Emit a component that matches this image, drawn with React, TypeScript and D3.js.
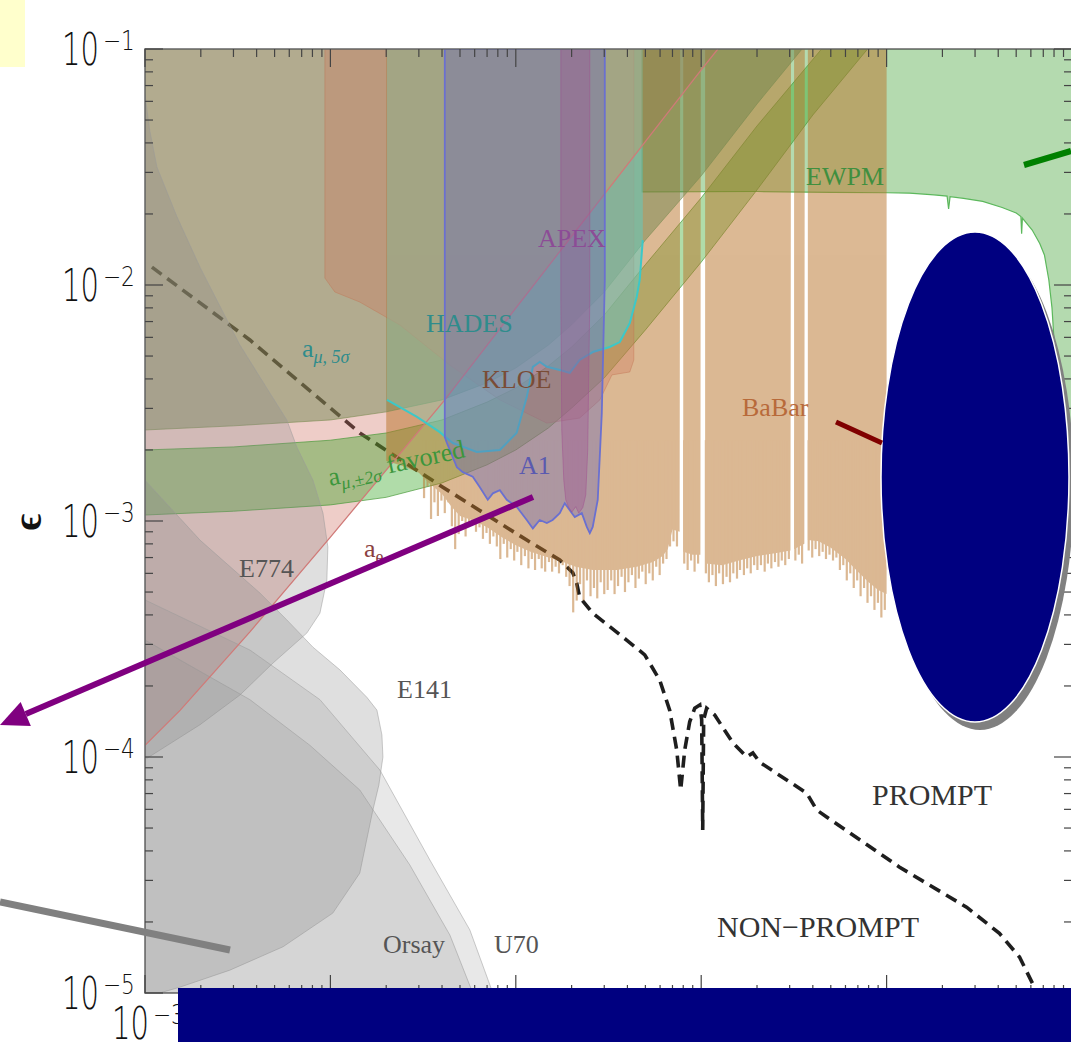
import React from "react";
import * as d3 from "d3";

type P = [number, number]; // [mass (GeV), epsilon]

// ---- exclusion regions and curves, in (mass GeV, epsilon) ----
const ewpmEdge: P[] = [
  [0.48, 0.0248], [2, 0.0249], [5, 0.0247], [10, 0.0246], [13.3, 0.0245], [18, 0.0241],
  [21.2, 0.0238], [21.6, 0.021], [22, 0.0237], [26, 0.0233], [33, 0.0226], [42, 0.0213],
  [50, 0.0202], [53, 0.0195], [53.5, 0.0165], [54, 0.0192], [61, 0.0171], [67, 0.015],
  [71, 0.0134], [75, 0.0105], [78, 0.008], [81, 0.005], [84, 0.003], [88, 0.0018],
  [93, 0.0011], [100, 8.3e-4],
];

const aeLine: P[] = [
  [1e-3, 1.12e-4], [1.55e-3, 1.58e-4], [3.68e-3, 3.39e-4], [0.01, 8.55e-4], [0.0414, 3.26e-3],
  [0.105, 8.39e-3], [0.508, 0.0412], [1.0, 0.0815], [1.23, 0.1],
];

const amu5Edge: P[] = [
  [1e-3, 2.43e-3], [3e-3, 2.53e-3], [0.01, 2.68e-3], [0.02, 2.9e-3], [0.04, 3.26e-3],
  [0.07, 3.85e-3], [0.1, 4.45e-3], [0.15, 5.57e-3], [0.2, 6.78e-3], [0.3, 9.34e-3],
  [0.5, 0.0155], [1.0, 0.029], [2.0, 0.0585], [3.5, 0.1],
];

const amu2Upper: P[] = [
  [1e-3, 2.0e-3], [3e-3, 2.06e-3], [0.01, 2.2e-3], [0.02, 2.36e-3], [0.04, 2.68e-3],
  [0.07, 3.19e-3], [0.1, 3.66e-3], [0.15, 4.54e-3], [0.2, 5.46e-3], [0.3, 7.46e-3],
  [0.5, 0.0122], [1.0, 0.0234], [2.0, 0.0472], [4.46, 0.1],
];

const amu2Lower: P[] = [
  [1e-3, 1.06e-3], [3e-3, 1.1e-3], [0.01, 1.17e-3], [0.02, 1.26e-3], [0.04, 1.45e-3],
  [0.07, 1.73e-3], [0.1, 2.0e-3], [0.15, 2.48e-3], [0.2, 3.01e-3], [0.3, 4.04e-3],
  [0.5, 6.45e-3], [1.0, 0.0125], [2.0, 0.0253], [4.0, 0.0525], [7.9, 0.1],
];

const e774Edge: P[] = [
  [1e-3, 0.0638], [1.06e-3, 0.0454], [1.16e-3, 0.0316], [1.49e-3, 0.0194], [1.98e-3, 0.0119],
  [2.44e-3, 8.63e-3], [3.25e-3, 5.57e-3], [4.43e-3, 3.77e-3], [5.82e-3, 2.68e-3],
  [6.59e-3, 2.06e-3], [8.05e-3, 1.49e-3], [9.12e-3, 1.08e-3], [9.69e-3, 7.76e-4],
  [9.57e-3, 5.62e-4], [8.78e-3, 4.07e-4], [7.46e-3, 3.35e-4], [4.9e-3, 2.5e-4],
  [3.25e-3, 1.83e-4], [1.98e-3, 1.37e-4], [1.03e-3, 9.9e-5], [1e-3, 9.9e-5],
];

const e141Edge: P[] = [
  [1e-3, 1.49e-3], [1.98e-3, 8.3e-4], [4.17e-3, 4.95e-4], [5.82e-3, 3.81e-4], [8.05e-3, 2.92e-4],
  [0.01125, 2.34e-4], [0.01573, 1.79e-4], [0.01782, 1.58e-4], [0.01896, 1.24e-4],
  [0.0192, 1.0e-4], [0.01825, 7.6e-5], [0.01695, 5.96e-5], [0.0144, 3.22e-5],
  [0.0103, 2.18e-5], [5.55e-3, 1.57e-5], [2.87e-3, 1.25e-5], [1.55e-3, 1.06e-5],
  [1.2e-3, 1e-5], [1e-3, 1e-5],
];

const orsayEdge: P[] = [
  [1e-3, 3.13e-4], [3.68e-3, 1.75e-4], [7.76e-3, 1.12e-4], [0.0144, 7.25e-5],
  [0.0268, 3.49e-5], [0.0441, 1.76e-5], [0.0586, 1e-5], [1e-3, 1e-5],
];

const u70Edge: P[] = [
  [1e-3, 4.63e-4], [3.68e-3, 2.84e-4], [8.78e-3, 1.75e-4], [0.0185, 8.8e-5],
  [0.0344, 3.66e-5], [0.0565, 1.85e-5], [0.0752, 1e-5], [1e-3, 1e-5],
];

const kloeEdge: P[] = [
  [9.34e-3, 0.1], [9.34e-3, 0.0107], [0.01057, 9.34e-3], [0.0144, 8.47e-3], [0.0237, 6.77e-3],
  [0.0441, 4.58e-3], [0.082, 3.26e-3], [0.147, 2.6e-3], [0.221, 2.73e-3], [0.284, 3.26e-3],
  [0.33, 4.16e-3], [0.412, 4.28e-3], [0.433, 4.81e-3], [0.433, 0.1],
];

// BaBar: lower envelope of the excluded band (with resonance vetoes) ...
const babarBody: P[] = [
  [0.02, 1.8e-3], [0.025, 1.7e-3], [0.03, 1.6e-3], [0.034, 1.45e-3], [0.04, 1.3e-3],
  [0.045, 1.15e-3], [0.05, 1.05e-3], [0.06, 1.0e-3], [0.07, 9.4e-4], [0.085, 8.5e-4],
  [0.1, 7.9e-4], [0.12, 7.4e-4], [0.15, 7.0e-4], [0.18, 6.7e-4], [0.21, 6.4e-4],
  [0.26, 6.2e-4], [0.35, 6.2e-4], [0.45, 6.4e-4], [0.55, 6.7e-4], [0.62, 7.1e-4],
  [0.66, 7.6e-4], [0.7, 9.2e-4], [0.765, 9.0e-4],
  [0.77, 0.1], [0.8, 0.1],
  [0.8, 7.4e-4], [0.9, 7.2e-4], [0.99, 7.2e-4],
  [0.995, 0.1], [1.05, 0.1],
  [1.05, 6.6e-4], [1.3, 6.5e-4], [1.6, 6.8e-4], [2.0, 7.1e-4], [2.5, 7.3e-4], [3.03, 7.5e-4],
  [3.05, 0.1], [3.17, 0.1],
  [3.17, 7.6e-4], [3.6, 8.0e-4],
  [3.62, 0.1], [3.76, 0.1],
  [3.76, 8.3e-4], [4.3, 8.2e-4], [5.0, 7.7e-4], [6.0, 6.9e-4], [7.0, 6.1e-4], [8.0, 5.5e-4],
  [9.0, 5.1e-4], [10.0, 4.9e-4],
];

// ... and the downward fluctuations of the limit below it: [mass, deepest epsilon]
const babarNeedles: P[] = [
  [0.032, 1.25e-3], [0.0334, 1.4e-3], [0.0349, 1.02e-3], [0.0364, 1.2e-3], [0.038, 1.05e-3],
  [0.0397, 1.22e-3], [0.0414, 1.08e-3], [0.0433, 1.2e-3], [0.0452, 9.5e-4], [0.0471, 7.6e-4],
  [0.0492, 8.8e-4], [0.0514, 1.0e-3], [0.0536, 8.6e-4], [0.056, 9.6e-4], [0.0585, 9.8e-4],
  [0.061, 9.0e-4], [0.0637, 9.4e-4], [0.0665, 8.4e-4], [0.0695, 8.9e-4], [0.0725, 8.0e-4],
  [0.0757, 8.6e-4], [0.079, 7.8e-4], [0.0825, 6.9e-4], [0.0861, 8.0e-4], [0.0899, 7.0e-4],
  [0.0939, 7.6e-4], [0.098, 6.8e-4], [0.102, 7.4e-4], [0.107, 6.5e-4], [0.112, 7.1e-4],
  [0.117, 6.3e-4], [0.122, 6.9e-4], [0.127, 6.2e-4], [0.133, 6.9e-4], [0.138, 6.3e-4],
  [0.144, 6.1e-4], [0.151, 6.7e-4], [0.157, 6.1e-4], [0.164, 6.4e-4], [0.171, 6.0e-4],
  [0.179, 6.5e-4], [0.187, 5.8e-4], [0.195, 5.3e-4], [0.204, 4.1e-4], [0.213, 4.6e-4],
  [0.222, 5.4e-4], [0.232, 4.6e-4], [0.242, 5.6e-4], [0.253, 4.8e-4], [0.264, 5.2e-4],
  [0.275, 4.7e-4], [0.287, 5.5e-4], [0.3, 4.9e-4], [0.313, 5.1e-4], [0.327, 5.6e-4],
  [0.341, 4.9e-4], [0.356, 5.3e-4], [0.372, 5.8e-4], [0.388, 5.0e-4], [0.405, 5.5e-4],
  [0.423, 5.9e-4], [0.442, 5.2e-4], [0.461, 5.7e-4], [0.481, 6.1e-4], [0.502, 5.4e-4],
  [0.525, 6.0e-4], [0.548, 5.6e-4], [0.572, 6.4e-4], [0.597, 5.9e-4], [0.623, 6.6e-4],
  [0.65, 6.9e-4], [0.679, 7.8e-4], [0.709, 8.2e-4], [0.74, 7.8e-4],
  [0.81, 6.6e-4], [0.845, 6.2e-4], [0.882, 6.8e-4], [0.921, 6.1e-4], [0.962, 6.6e-4],
  [1.06, 6.0e-4], [1.1, 5.5e-4], [1.15, 5.9e-4], [1.2, 5.3e-4], [1.25, 6.0e-4], [1.31, 5.4e-4],
  [1.37, 5.8e-4], [1.43, 5.5e-4], [1.49, 6.0e-4], [1.56, 5.7e-4], [1.62, 6.2e-4], [1.7, 5.9e-4],
  [1.77, 6.3e-4], [1.85, 6.0e-4], [1.93, 6.5e-4], [2.01, 6.2e-4], [2.1, 6.5e-4], [2.2, 6.1e-4],
  [2.29, 6.6e-4], [2.39, 6.3e-4], [2.5, 6.7e-4], [2.61, 6.4e-4], [2.72, 6.8e-4], [2.84, 6.5e-4],
  [2.97, 6.9e-4],
  [3.22, 6.8e-4], [3.36, 7.2e-4], [3.5, 6.6e-4],
  [3.8, 7.5e-4], [3.97, 7.0e-4], [4.14, 7.6e-4], [4.33, 7.1e-4], [4.52, 7.4e-4], [4.71, 6.9e-4],
  [4.92, 7.2e-4], [5.14, 6.8e-4], [5.36, 7.0e-4], [5.6, 6.2e-4], [5.84, 6.5e-4], [6.1, 5.6e-4],
  [6.37, 6.0e-4], [6.65, 5.2e-4], [6.94, 5.6e-4], [7.24, 4.8e-4], [7.56, 5.2e-4], [7.89, 4.5e-4],
  [8.24, 4.8e-4], [8.6, 4.2e-4], [8.98, 4.5e-4], [9.37, 3.9e-4], [9.78, 4.2e-4],
];

const hadesCurve: P[] = [
  [0.0202, 3.26e-3], [0.0293, 2.76e-3], [0.0389, 2.38e-3], [0.0457, 2.14e-3],
  [0.0616, 1.96e-3], [0.082, 2.0e-3], [0.101, 2.36e-3], [0.1146, 3.35e-3], [0.1236, 4.5e-3],
  [0.1346, 4.72e-3], [0.147, 4.5e-3], [0.1726, 4.36e-3], [0.1955, 4.24e-3], [0.221, 4.81e-3],
  [0.26, 5.2e-3], [0.321, 5.46e-3], [0.364, 5.73e-3], [0.412, 6.9e-3], [0.449, 8.9e-3],
  [0.466, 0.0105], [0.484, 0.0155],
];

const a1Edge: P[] = [
  [0.0414, 0.1], [0.0414, 2.27e-3], [0.0425, 2.14e-3], [0.0481, 1.69e-3], [0.0518, 1.61e-3],
  [0.0586, 1.54e-3], [0.064, 1.39e-3], [0.0706, 1.23e-3], [0.0752, 1.31e-3], [0.082, 1.35e-3],
  [0.0894, 1.23e-3], [0.101, 1.15e-3], [0.1146, 1.01e-3], [0.1236, 9.3e-4], [0.1346, 1.01e-3],
  [0.147, 9.8e-4], [0.158, 1.01e-3], [0.1726, 1.08e-3], [0.1837, 1.19e-3], [0.1955, 1.11e-3],
  [0.208, 1.04e-3], [0.227, 1.08e-3], [0.2415, 9.44e-4], [0.2507, 8.89e-4], [0.26, 9.44e-4],
  [0.2767, 1.23e-3], [0.291, 2.87e-3], [0.302, 0.0105], [0.302, 0.1],
];

const apexEdge: P[] = [
  [0.175, 0.1], [0.175, 8.63e-3], [0.177, 2.43e-3], [0.1815, 1.49e-3], [0.186, 1.23e-3],
  [0.193, 1.14e-3], [0.2005, 1.09e-3], [0.2105, 1.15e-3], [0.2186, 1.08e-3], [0.2298, 1.14e-3],
  [0.2384, 1.29e-3], [0.2443, 2.0e-3], [0.2472, 3.96e-3], [0.2507, 8.63e-3], [0.2507, 0.1],
];

// boundary between prompt and displaced decays
const promptLine: P[] = [
  [1.09e-3, 0.0119], [3.68e-3, 5.85e-3], [0.0144, 2.36e-3], [0.0404, 1.39e-3], [0.1146, 8.3e-4],
  [0.1726, 6.84e-4], [0.203, 6.03e-4], [0.213, 5.46e-4], [0.221, 4.76e-4], [0.26, 4.07e-4],
  [0.396, 3.13e-4], [0.496, 2.71e-4], [0.597, 2.12e-4], [0.676, 1.58e-4], [0.738, 1.07e-4],
  [0.775, 7.25e-5], [0.815, 1.07e-4], [0.867, 1.41e-4], [0.923, 1.61e-4], [0.982, 1.66e-4],
  [1.006, 1.44e-4], [1.019, 4.91e-5], [1.031, 1.44e-4], [1.07, 1.61e-4], [1.18, 1.51e-4],
  [1.48, 1.15e-4], [1.76, 1.0e-4], [1.9, 1.04e-4], [2.07, 9.5e-5], [3.71, 7.03e-5],
  [4.2, 5.96e-5], [4.75, 5.57e-5], [11.7, 3.42e-5], [27.0, 2.31e-5], [40.6, 1.79e-5],
  [52.1, 1.42e-5], [61.2, 1.1e-5], [66.8, 9.3e-6],
];

const yDecades = [-1, -2, -3, -4, -5];
const xDecades = [-3];

const SERIF = "'Liberation Serif', 'DejaVu Serif', serif";
const NUM = "'DejaVu Sans', sans-serif";

// "10" with a raised exponent, narrowed horizontally
function PowerLabel({ xr, yb, exp }: { xr: number; yb: number; exp: number }) {
  return (
    <g fill="#111" fontFamily={NUM} fontWeight={200}>
      <g transform={`translate(${xr},${yb}) scale(0.66,1)`}>
        <text x={0} y={0} fontSize={44} textAnchor="end">10</text>
      </g>
      <g transform={`translate(${xr + 4},${yb - 15}) scale(0.8,1)`}>
        <text x={0} y={0} fontSize={27}>{"\u2212" + Math.abs(exp)}</text>
      </g>
    </g>
  );
}

export default function App() {
  const x = d3.scaleLog().domain([1e-3, 1e2]).range([145, 1072]);
  const y = d3.scaleLog().domain([1e-5, 1e-1]).range([993, 49]);
  const line = d3.line<P>().x((d) => x(d[0])).y((d) => y(d[1]));
  const poly = (pts: P[]) => (line(pts) || "") + "Z";

  const ewpmPoly: P[] = [[0.48, 0.1], ...ewpmEdge, [100, 0.1]];
  const aePoly: P[] = [...aeLine, [1e-3, 0.1]];
  const belowAe: P[] = [...aeLine, [100, 0.1], [100, 1e-5], [1e-3, 1e-5]];
  const amu5Poly: P[] = [...amu5Edge, [1e-3, 0.1]];
  const amu2Poly: P[] = [...amu2Upper, ...[...amu2Lower].reverse()];
  const babarPoly: P[] = [[0.02, 0.1], ...babarBody, [10, 0.1]];
  const hadesPoly: P[] = [[0.0202, 0.1], ...hadesCurve, [0.484, 0.1]];

  const yTicks: { v: number; major: boolean }[] = [];
  for (let e = -5; e <= -1; e++) {
    for (let k = 1; k <= 9; k++) {
      const v = k * Math.pow(10, e);
      if (v > 0.1 + 1e-12) continue;
      yTicks.push({ v, major: k === 1 });
    }
  }
  const xTicks: { v: number; major: boolean }[] = [];
  for (let e = -3; e <= 2; e++) {
    for (let k = 1; k <= 9; k++) {
      const v = k * Math.pow(10, e);
      if (v > 100 + 1e-9) continue;
      xTicks.push({ v, major: k === 1 });
    }
  }

  const L = x(1e-3), R = x(1e2), T = y(1e-1), B = y(1e-5);

  // purple pointer with its arrow head
  const aStart: P = [533, 497];
  const aTip: P = [0, 725];
  const dx = aTip[0] - aStart[0], dy = aTip[1] - aStart[1];
  const len = Math.hypot(dx, dy);
  const ux = dx / len, uy = dy / len;
  const hl = 28, hw = 13;
  const bx = aTip[0] - ux * hl, by = aTip[1] - uy * hl;
  const head = `M${aTip[0]},${aTip[1]}L${bx - uy * hw},${by + ux * hw}L${bx + uy * hw},${by - ux * hw}Z`;

  const grayProps = { fill: "#8a8a8a", stroke: "#9a9a9a", strokeOpacity: 0.5 };
  const BABAR = "#b97329";

  return (
    <svg width={1071} height={1042} style={{ position: "absolute", left: 0, top: 0, display: "block" }}
      xmlns="http://www.w3.org/2000/svg">
      <rect x={0} y={0} width={1071} height={1042} fill="#ffffff" />
      <defs>
        <clipPath id="plot">
          <rect x={L} y={T} width={R - L} height={B - T} />
        </clipPath>
        <clipPath id="belowAe">
          <path d={poly(belowAe)} />
        </clipPath>
      </defs>

      <g clipPath="url(#plot)">
        {/* prompt / non-prompt boundary, beneath the filled regions */}
        <path d={line(promptLine) || ""} fill="none" stroke="#1e1e1e" strokeWidth={3.6} strokeDasharray="12 7" />

        <path d={poly(ewpmPoly)} fill="#58ad4d" fillOpacity={0.45} stroke="#5cb85c" strokeWidth={1.2} />
        <path d={poly(aePoly)} fill="#ce7062" fillOpacity={0.35} stroke="none" />
        <path d={poly(amu2Poly)} fill="#1e9b0a" fillOpacity={0.35} stroke="#4a9a3a" strokeOpacity={0.7} />

        {/* BaBar drawn opaque inside a translucent group so overlaps don't darken */}
        <g opacity={0.5}>
          <path d={poly(babarPoly)} fill={BABAR} stroke="none" />
          {babarNeedles.map((d, i) => (
            <line key={"bn" + i} x1={x(d[0])} x2={x(d[0])} y1={y(2.2e-3)} y2={y(d[1])}
              stroke={BABAR} strokeWidth={2.2} />
          ))}
        </g>

        <path d={poly(amu5Poly)} fill="#69824a" fillOpacity={0.45} stroke="#7a8a50" strokeOpacity={0.6} />

        <path d={poly(e774Edge)} {...grayProps} fillOpacity={0.27} />
        <path d={poly(e141Edge)} {...grayProps} fillOpacity={0.27} />
        <path d={poly(orsayEdge)} {...grayProps} fillOpacity={0.2} />
        <path d={poly(u70Edge)} {...grayProps} fillOpacity={0.2} />

        <path d={poly(kloeEdge)} fill="#d0785a" fillOpacity={0.34} stroke="#c07050" strokeOpacity={0.4} />
        <path d={poly(hadesPoly)} fill="#8ccdbb" fillOpacity={0.4} stroke="none" />
        <g clipPath="url(#belowAe)">
          <path d={poly(hadesPoly)} fill="#46c4b8" fillOpacity={0.3} stroke="none" />
        </g>
        <path d={line(aeLine) || ""} fill="none" stroke="#d07a78" strokeWidth={1.3} />
        <path d={line(hadesCurve) || ""} fill="none" stroke="#3cc8c8" strokeWidth={2} />

        <path d={poly(a1Edge)} fill="#6e6ab4" fillOpacity={0.42} stroke="#6a70d0" strokeWidth={1.8} />
        <path d={poly(apexEdge)} fill="#a05090" fillOpacity={0.35} stroke="#a05090" strokeOpacity={0.5} />
      </g>

      {/* frame */}
      <rect x={L} y={T} width={R - L} height={B - T} fill="none" stroke="#666" strokeWidth={1.5} />

      {/* ticks */}
      {yTicks.map((t, i) => (
        <g key={"yt" + i} stroke="#444" strokeWidth={1.2}>
          <line x1={L} x2={L + (t.major ? 18 : 8)} y1={y(t.v)} y2={y(t.v)} />
          <line x1={R} x2={R - (t.major ? 18 : 8)} y1={y(t.v)} y2={y(t.v)} />
        </g>
      ))}
      {xTicks.map((t, i) => (
        <g key={"xt" + i} stroke="#444" strokeWidth={1.2}>
          <line x1={x(t.v)} x2={x(t.v)} y1={T} y2={T + (t.major ? 18 : 8)} />
          <line x1={x(t.v)} x2={x(t.v)} y1={B} y2={B - (t.major ? 18 : 8)} />
        </g>
      ))}

      {/* tick labels */}
      {yDecades.map((e) => (
        <PowerLabel key={"yl" + e} xr={99} yb={y(Math.pow(10, e)) + 16} exp={e} />
      ))}
      {xDecades.map((e) => (
        <PowerLabel key={"xl" + e} xr={x(Math.pow(10, e)) + 4} yb={1039} exp={e} />
      ))}
      <text transform="translate(41,522) rotate(-90)" fontSize={40} fontFamily={SERIF}
        textAnchor="middle" fill="#111" fontWeight="bold">ϵ</text>

      {/* region labels */}
      <g fontFamily={SERIF} fontSize={26}>
        <text x={806} y={185} fill="#3f8f3f">EWPM</text>
        <text x={538} y={247} fill="#8c4c96">APEX</text>
        <text x={426} y={332} fill="#2f8c8c">HADES</text>
        <text x={482} y={388} fill="#7a4c36">KLOE</text>
        <text x={742} y={416} fill="#b86a3a">BaBar</text>
        <text x={519} y={474} fill="#5a5ab0">A1</text>
        <text x={302} y={357} fill="#2f8c8c">a<tspan fontSize={18} dy={6} fontStyle="italic">μ, 5σ</tspan></text>
        <text transform="translate(330,486) rotate(-12)" fill="#3c963c">
          a<tspan fontSize={18} dy={6} fontStyle="italic">μ,±2σ</tspan>
          <tspan dx={7} dy={-6}>favored</tspan>
        </text>
        <text x={364} y={557} fill="#8a4040">a<tspan fontSize={18} dy={6}>e</tspan></text>
        <text x={239} y={577} fill="#555">E774</text>
        <text x={397} y={698} fill="#555">E141</text>
        <text x={383} y={953} fill="#555">Orsay</text>
        <text x={494} y={953} fill="#555">U70</text>
        <text x={872} y={805} fontSize={30} fill="#333">PROMPT</text>
        <text x={717} y={937} fontSize={30} fill="#333">NON−PROMPT</text>
      </g>

      {/* overlay shapes */}
      <rect x={0} y={0} width={25} height={67} fill="#ffffcc" />
      <ellipse cx={980} cy={485} rx={94} ry={245} fill="#808080" />
      <ellipse cx={975} cy={477} rx={94} ry={245} fill="#000080" stroke="#ffffff" strokeWidth={1.5} />
      <line x1={836} y1={422} x2={882} y2={443} stroke="#800000" strokeWidth={5} />
      <line x1={1024} y1={165} x2={1071} y2={151} stroke="#008000" strokeWidth={6} />
      <line x1={0} y1={902} x2={230} y2={950} stroke="#808080" strokeWidth={7} />
      <line x1={aStart[0]} y1={aStart[1]} x2={bx} y2={by} stroke="#800080" strokeWidth={6} />
      <path d={head} fill="#800080" />
      <rect x={178} y={988} width={893} height={54} fill="#000080" />
    </svg>
  );
}
